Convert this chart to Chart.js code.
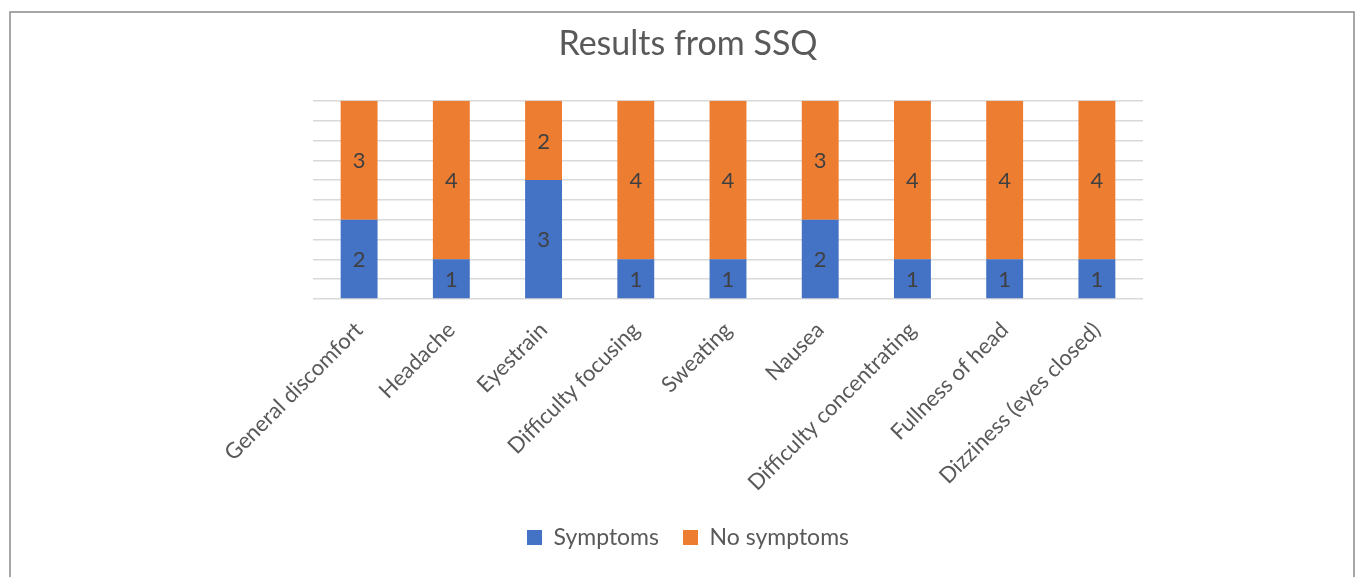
<!DOCTYPE html>
<html>
<head>
<meta charset="utf-8">
<script src="https://cdn.jsdelivr.net/npm/chart.js@4"></script>
<style>
  html, body { margin: 0; padding: 0; background: #fff; }
  #wrap { width: 1357px; height: 577px; position: relative; }
</style>
</head>
<body>
<div id="wrap"><canvas id="chart"></canvas></div>
<script>
const categories = [
    'General discomfort', 'Headache', 'Eyestrain', 'Difficulty focusing',
    'Sweating', 'Nausea', 'Difficulty concentrating', 'Fullness of head',
    'Dizziness (eyes closed)'
];
const symptoms = [2, 1, 3, 1, 1, 2, 1, 1, 1];
const noSymptoms = [3, 4, 2, 4, 4, 3, 4, 4, 4];

const FONT = 'Lato, "Open Sans", sans-serif';

// Frame round the whole picture
const framePlugin = {
    id: 'frame',
    beforeDraw(chart) {
        const ctx = chart.ctx;
        ctx.save();
        ctx.fillStyle = '#ffffff';
        ctx.fillRect(0, 0, chart.width, chart.height);
        ctx.strokeStyle = '#8a8a8a';
        ctx.lineWidth = 1.5;
        ctx.strokeRect(10, 12, 1344, 620);
        ctx.restore();
    }
};

// Values written in the middle of each segment
const valueLabels = {
    id: 'valueLabels',
    afterDatasetsDraw(chart) {
        const ctx = chart.ctx;
        ctx.save();
        ctx.font = '22px ' + FONT;
        ctx.fillStyle = '#404040';
        ctx.textAlign = 'center';
        ctx.textBaseline = 'middle';
        chart.data.datasets.forEach((ds, i) => {
            chart.getDatasetMeta(i).data.forEach((bar, j) => {
                const mid = (bar.y + bar.base) / 2;
                ctx.fillText(String(ds.data[j]), bar.x, mid + 1);
            });
        });
        ctx.restore();
    }
};

new Chart(document.getElementById('chart'), {
    type: 'bar',
    data: {
        labels: categories,
        datasets: [
            { label: 'Symptoms', data: symptoms, backgroundColor: '#4472C4', borderWidth: 0 },
            { label: 'No symptoms', data: noSymptoms, backgroundColor: '#ED7D31', borderWidth: 0 }
        ]
    },
    options: {
        responsive: true,
        maintainAspectRatio: false,
        animation: false,
        devicePixelRatio: 1,
        layout: { padding: { top: 12, left: 20, right: 1, bottom: 18 } },
        datasets: { bar: { categoryPercentage: 0.8, barPercentage: 0.5 } },
        scales: {
            x: {
                stacked: true,
                grid: { display: false },
                border: { display: false },
                ticks: {
                    minRotation: 45,
                    maxRotation: 45,
                    color: '#595959',
                    font: { family: FONT, size: 22 },
                    padding: 10
                },
                afterFit(scale) { scale.height = 203; }
            },
            y: {
                stacked: true,
                min: 0,
                max: 5,
                ticks: { display: false, stepSize: 0.5 },
                grid: { color: '#d9d9d9', lineWidth: 1.5, drawTicks: false },
                border: { display: false },
                afterFit(scale) { scale.width = 293; }
            },
            spacer: {
                position: 'right',
                display: true,
                ticks: { display: false },
                grid: { display: false },
                border: { display: false },
                afterFit(scale) { scale.width = 213; }
            }
        },
        plugins: {
            title: {
                display: true,
                text: 'Results from SSQ',
                color: '#595959',
                font: { family: FONT, size: 34, weight: 'normal' },
                padding: { top: 12, bottom: 36 }
            },
            legend: {
                position: 'bottom',
                labels: {
                    color: '#595959',
                    font: { family: FONT, size: 23 },
                    boxWidth: 15,
                    boxHeight: 15,
                    padding: 24
                }
            },
            tooltip: { enabled: false }
        }
    },
    plugins: [framePlugin, valueLabels]
});
</script>
</body>
</html>
